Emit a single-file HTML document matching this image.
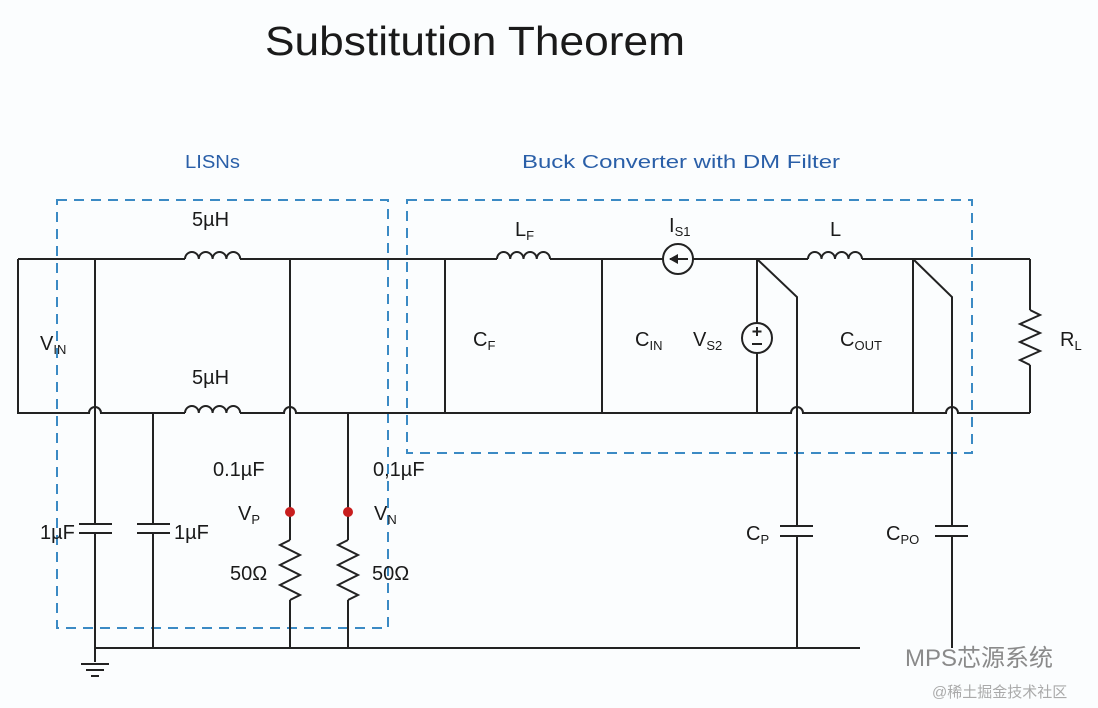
<!DOCTYPE html>
<html><head><meta charset="utf-8"><style>
html,body{margin:0;padding:0;background:#fbfdfe;}
svg{display:block;}
text{font-family:"Liberation Sans","DejaVu Sans",sans-serif;fill:#1a1a1a;}
.w{stroke:#222;stroke-width:2;fill:none;}
.d{stroke:#3b8ac4;stroke-width:2;fill:none;stroke-dasharray:10,7;}
.b{fill:#2a5fa8;}
.l{font-size:20px;}
.s{font-size:13px;}
</style></head><body>
<svg width="1098" height="708" viewBox="0 0 1098 708">
<text x="265" y="55" font-size="41" textLength="420" lengthAdjust="spacingAndGlyphs">Substitution Theorem</text>
<text class="b" x="185" y="168" font-size="18" textLength="55" lengthAdjust="spacingAndGlyphs">LISNs</text>
<text class="b" x="522" y="168" font-size="18" textLength="318" lengthAdjust="spacingAndGlyphs">Buck Converter with DM Filter</text>

<rect class="d" x="57" y="200" width="331" height="428"/>
<rect class="d" x="407" y="200" width="565" height="253"/>

<path class="w" d="M18,259 H185 M240,259 H497 M550,259 H663 M693,259 H808 M862,259 H1030"/>
<path class="w" d="M185,259 a6.9,7 0 0 1 13.8,0 a6.9,7 0 0 1 13.8,0 a6.9,7 0 0 1 13.8,0 a6.9,7 0 0 1 13.8,0"/>
<path class="w" d="M185,413 a6.9,7 0 0 1 13.8,0 a6.9,7 0 0 1 13.8,0 a6.9,7 0 0 1 13.8,0 a6.9,7 0 0 1 13.8,0"/>
<path class="w" d="M497,259 a6.6,7 0 0 1 13.25,0 a6.6,7 0 0 1 13.25,0 a6.6,7 0 0 1 13.25,0 a6.6,7 0 0 1 13.25,0"/>
<path class="w" d="M808,259 a6.75,7 0 0 1 13.5,0 a6.75,7 0 0 1 13.5,0 a6.75,7 0 0 1 13.5,0 a6.75,7 0 0 1 13.5,0"/>
<path class="w" d="M18,259 V413 H89 a6,6 0 0 1 12,0 H185 M240,413 H284 a6,6 0 0 1 12,0 H791 a6,6 0 0 1 12,0 H946 a6,6 0 0 1 12,0 H1030"/>
<path class="w" d="M95,259 V648 M290,259 V540 M290,600 V648 M153,413 V648 M348,413 V540 M348,600 V648 M445,259 V413 M602,259 V413 M757,259 V323 M757,353 V413 M913,259 V413 M1030,259 V310 M1030,365 V413"/>
<path class="w" d="M757,259 L797,297 V648 M913,259 L952,297 V648"/>
<path class="w" d="M290,540 l-10,5 l20,10 l-20,10 l20,10 l-20,10 l20,10 l-10,5"/>
<path class="w" d="M348,540 l-10,5 l20,10 l-20,10 l20,10 l-20,10 l20,10 l-10,5"/>
<path class="w" d="M1030,310 l10,5 l-20,9 l20,9 l-20,9 l20,9 l-20,9 l10,5"/>
<rect x="80" y="524" width="30" height="9" fill="#fbfdfe"/>
<path class="w" stroke-width="3" d="M79,524 H112 M79,533 H112"/>
<rect x="138" y="524" width="30" height="9" fill="#fbfdfe"/>
<path class="w" stroke-width="3" d="M137,524 H170 M137,533 H170"/>
<rect x="782" y="526" width="30" height="9" fill="#fbfdfe"/>
<path class="w" stroke-width="3" d="M780,526 H813 M780,536 H813"/>
<rect x="937" y="526" width="30" height="9" fill="#fbfdfe"/>
<path class="w" stroke-width="3" d="M935,526 H968 M935,536 H968"/>
<path class="w" d="M95,648 H860"/>
<path class="w" d="M95,648 V662 M81,664 H109 M86,670 H104 M91,676 H99"/>
<circle class="w" cx="678" cy="259" r="15"/>
<path d="M670,259 H688" class="w"/><path d="M669,259 l9,-5 v10 z" fill="#222"/>
<circle class="w" cx="757" cy="338" r="15"/>
<path class="w" d="M757,327 v9 M752.5,331.5 h9 M752,344 h10"/>
<circle cx="290" cy="512" r="5" fill="#c81e1e"/>
<circle cx="348" cy="512" r="5" fill="#c81e1e"/>

<text class="l" x="40" y="350">V<tspan class="s" dy="4">IN</tspan></text>
<text class="l" x="192" y="226">5µH</text>
<text class="l" x="192" y="384">5µH</text>
<text class="l" x="40" y="539" font-size="18">1µF</text>
<text class="l" x="174" y="539" font-size="18">1µF</text>
<text class="l" x="213" y="476" font-size="18">0.1µF</text>
<text class="l" x="373" y="476" font-size="18">0,1µF</text>
<text class="l" x="238" y="520">V<tspan class="s" dy="4">P</tspan></text>
<text class="l" x="374" y="520">V<tspan class="s" dy="4">N</tspan></text>
<text class="l" x="230" y="580" font-size="18">50Ω</text>
<text class="l" x="372" y="580" font-size="18">50Ω</text>
<text class="l" x="515" y="236">L<tspan class="s" dy="4">F</tspan></text>
<text class="l" x="669" y="232">I<tspan class="s" dy="4">S1</tspan></text>
<text class="l" x="830" y="236">L</text>
<text class="l" x="473" y="346">C<tspan class="s" dy="4">F</tspan></text>
<text class="l" x="635" y="346">C<tspan class="s" dy="4">IN</tspan></text>
<text class="l" x="693" y="346">V<tspan class="s" dy="4">S2</tspan></text>
<text class="l" x="840" y="346">C<tspan class="s" dy="4">OUT</tspan></text>
<text class="l" x="1060" y="346">R<tspan class="s" dy="4">L</tspan></text>
<text class="l" x="746" y="540">C<tspan class="s" dy="4">P</tspan></text>
<text class="l" x="886" y="540">C<tspan class="s" dy="4">PO</tspan></text>
<text x="905" y="666" font-size="24" style="font-family:'Liberation Sans','Noto Sans CJK SC',sans-serif;fill:#8a8a8a">MPS芯源系统</text>
<text x="932" y="697" font-size="15" style="font-family:'Liberation Sans','Noto Sans CJK SC',sans-serif;fill:#aaa">@稀土掘金技术社区</text>
</svg>
</body></html>
